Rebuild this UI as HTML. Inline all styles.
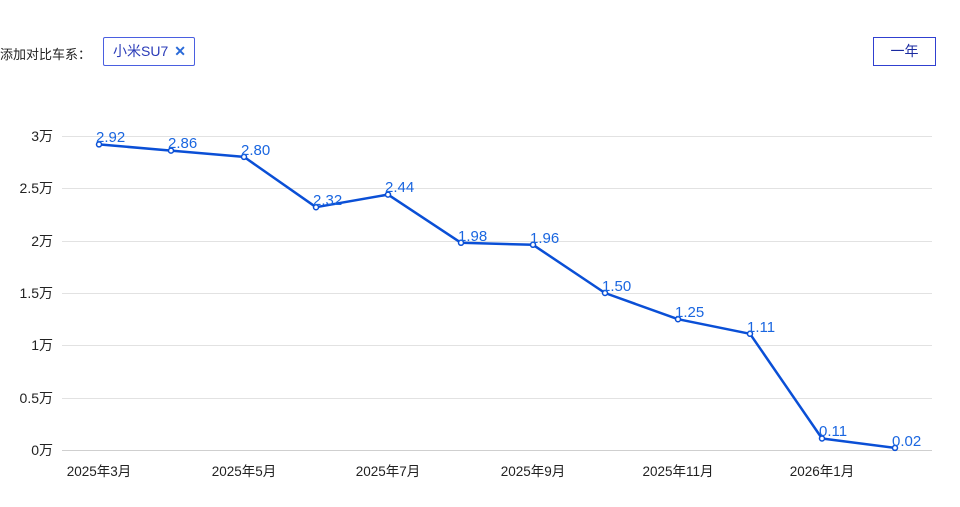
<!DOCTYPE html>
<html><head><meta charset="utf-8"><style>
body{margin:0;width:960px;height:507px;background:#fff;overflow:hidden;position:relative;font-family:"Liberation Sans","Noto Sans CJK SC",sans-serif}
.lbl{position:absolute;left:0;top:44px;font-size:13px;color:#222}
.tag{position:absolute;left:103px;top:37px;width:92px;height:29px;border:1px solid #4a5fe0;border-radius:2px;box-sizing:border-box;font-size:14px;color:#2a3bb8;line-height:27px;padding-left:9px}
.tag span{color:#2a6ad8;font-weight:bold;margin-left:6px}
.btn{position:absolute;left:873px;top:37px;width:63px;height:29px;border:1px solid #3040d0;box-sizing:border-box;font-size:14px;color:#1a2aa0;text-align:center;line-height:27px}
</style></head><body>
<div class="lbl">添加对比车系：</div>
<div class="tag">小米SU7<span>✕</span></div>
<div class="btn">一年</div>
<svg width="960" height="507" style="position:absolute;left:0;top:0" font-family="Liberation Sans, Noto Sans CJK SC, sans-serif">
<g stroke="#e2e2e2" stroke-width="1">
<line x1="62" x2="932" y1="136.5" y2="136.5"/>
<line x1="62" x2="932" y1="188.5" y2="188.5"/>
<line x1="62" x2="932" y1="241.5" y2="241.5"/>
<line x1="62" x2="932" y1="293.5" y2="293.5"/>
<line x1="62" x2="932" y1="345.5" y2="345.5"/>
<line x1="62" x2="932" y1="398.5" y2="398.5"/>
</g>
<line x1="62" x2="932" y1="450.5" y2="450.5" stroke="#cfcfcf"/>
<g font-size="14" fill="#222" text-anchor="end">
<text x="53" y="141">3万</text>
<text x="53" y="193">2.5万</text>
<text x="53" y="246">2万</text>
<text x="53" y="298">1.5万</text>
<text x="53" y="350">1万</text>
<text x="53" y="403">0.5万</text>
<text x="53" y="455">0万</text>
</g>
<g font-size="13.5" fill="#222" text-anchor="middle">
<text x="99" y="476">2025年3月</text>
<text x="244" y="476">2025年5月</text>
<text x="388" y="476">2025年7月</text>
<text x="533" y="476">2025年9月</text>
<text x="678" y="476">2025年11月</text>
<text x="822" y="476">2026年1月</text>
</g>
<polyline fill="none" stroke="#0a4fd6" stroke-width="2.5" stroke-linejoin="round" points="99,144.4 171,150.6 244,156.9 316,207.2 388,194.6 461,242.8 533,244.8 605,293 678,319.2 750,333.8 822,438.5 895,447.9"/>
<g fill="#fff" stroke="#0a4fd6" stroke-width="1.5">
<circle cx="99" cy="144.4" r="2.5"/><circle cx="171" cy="150.6" r="2.5"/><circle cx="244" cy="156.9" r="2.5"/><circle cx="316" cy="207.2" r="2.5"/><circle cx="388" cy="194.6" r="2.5"/><circle cx="461" cy="242.8" r="2.5"/><circle cx="533" cy="244.8" r="2.5"/><circle cx="605" cy="293" r="2.5"/><circle cx="678" cy="319.2" r="2.5"/><circle cx="750" cy="333.8" r="2.5"/><circle cx="822" cy="438.5" r="2.5"/><circle cx="895" cy="447.9" r="2.5"/>
</g>
<g font-size="15" fill="#1a66e0">
<text x="96" y="142">2.92</text>
<text x="168" y="148">2.86</text>
<text x="241" y="155">2.80</text>
<text x="313" y="205">2.32</text>
<text x="385" y="192">2.44</text>
<text x="458" y="241">1.98</text>
<text x="530" y="243">1.96</text>
<text x="602" y="291">1.50</text>
<text x="675" y="317">1.25</text>
<text x="747" y="332">1.11</text>
<text x="819" y="436">0.11</text>
<text x="892" y="446">0.02</text>
</g>
</svg>
</body></html>
